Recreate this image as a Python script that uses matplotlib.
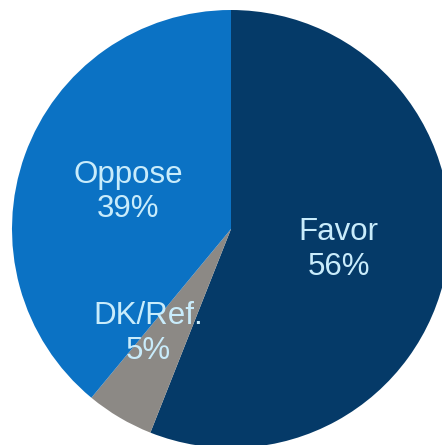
import matplotlib
matplotlib.use("Agg")
import matplotlib.pyplot as plt
import numpy as np

labels = ["Favor", "DK/Ref.", "Oppose"]
values = [56, 5, 39]
colors = ["#053a68", "#8c8985", "#0b72c4"]
text_color = "#c9ecfb"

plt.rcParams['font.family'] = ['Liberation Sans', 'DejaVu Sans']

fig = plt.figure(figsize=(4.42, 4.45), dpi=100)
ax = fig.add_axes([0, 0, 1, 1])

label_texts = [f"{l}\n{v}%" for l, v in zip(labels, values)]
wedges, texts = ax.pie(values, colors=colors, labels=label_texts,
                       startangle=90, counterclock=False,
                       labeldistance=0.5, radius=1.0,
                       wedgeprops=dict(linewidth=0),
                       textprops=dict(color=text_color, fontsize=22.5,
                                      ha="center", va="center",
                                      linespacing=1.2))

# the small slice's label sits a bit further out
ang = np.deg2rad(-128.5)
texts[1].set_position((0.61 * np.cos(ang), 0.61 * np.sin(ang)))
for t in texts:
    t.set_horizontalalignment("center")

# centre of pie at (231, 229) px with radius 219 px
ax.set_xlim(-231 / 219, (442 - 231) / 219)
ax.set_ylim(-(445 - 229) / 219, 229 / 219)
ax.set_aspect("auto")
ax.axis("off")

fig.savefig("out.png", dpi=100)
